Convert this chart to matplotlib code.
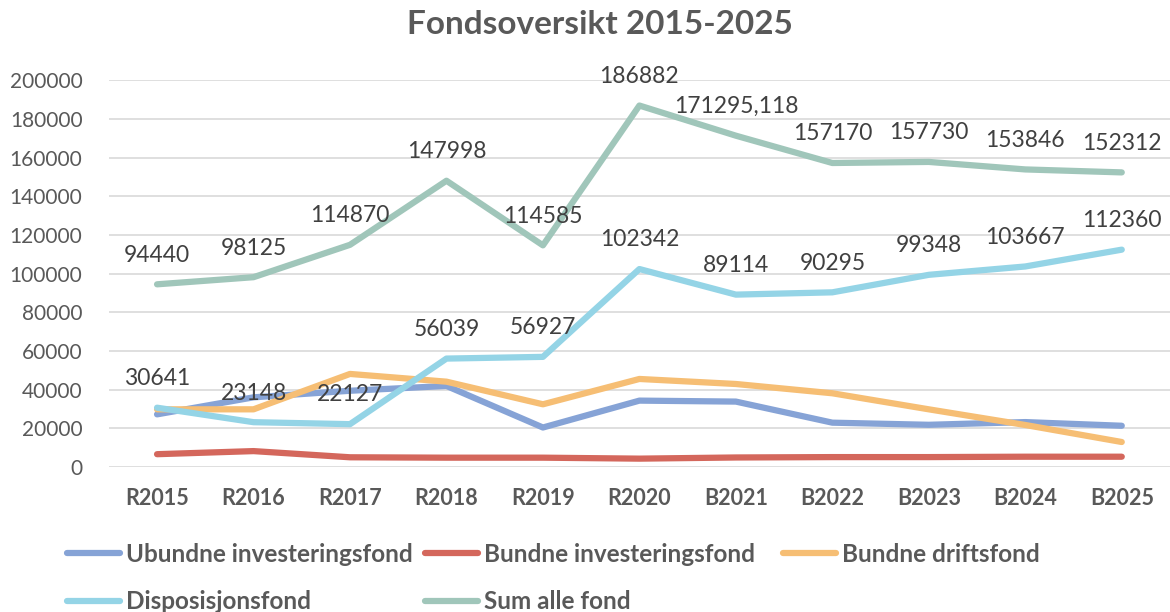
import matplotlib.pyplot as plt

plt.rcParams['font.family'] = ['Lato', 'DejaVu Sans']

years = ["R2015", "R2016", "R2017", "R2018", "R2019", "R2020",
         "B2021", "B2022", "B2023", "B2024", "B2025"]

ubundne_inv = [27200, 36000, 39400, 41900, 20400, 34300, 33800, 22900, 21800, 23200, 21300]
bundne_inv = [6600, 8200, 5000, 4800, 4800, 4300, 4900, 5100, 5100, 5300, 5300]
bundne_drift = [29800, 29800, 48100, 44100, 32400, 45500, 42900, 38100, 29800, 21700, 12900]
disposisjon = [30641, 23148, 22127, 56039, 56927, 102342, 89114, 90295, 99348, 103667, 112360]
sum_fond = [94440, 98125, 114870, 147998, 114585, 186882, 171295.118, 157170, 157730, 153846, 152312]

colors = {
    "Ubundne investeringsfond": "#86A3D6",
    "Bundne investeringsfond": "#D4675C",
    "Bundne driftsfond": "#F6BE74",
    "Disposisjonsfond": "#94D4E6",
    "Sum alle fond": "#A0C6BA",
}

fig = plt.figure(figsize=(11.7, 6.12), dpi=100)
ax = fig.add_axes([0.093, 0.237, 0.907, 0.632])

x = range(len(years))
series = [
    ("Ubundne investeringsfond", ubundne_inv),
    ("Bundne investeringsfond", bundne_inv),
    ("Bundne driftsfond", bundne_drift),
    ("Disposisjonsfond", disposisjon),
    ("Sum alle fond", sum_fond),
]
lines = {}
for name, vals in series:
    (ln,) = ax.plot(x, vals, color=colors[name], linewidth=4.5,
                    solid_capstyle="round", solid_joinstyle="round", label=name)
    lines[name] = ln


def fmt(v):
    if float(v).is_integer():
        return f"{int(v)}"
    return f"{v:.3f}".replace(".", ",")


for vals in (disposisjon, sum_fond):
    for i, v in enumerate(vals):
        ax.annotate(fmt(v), (i, v), xytext=(0, 21), textcoords="offset points",
                    ha="center", va="center", fontsize=16.5, color="#404040")

ax.set_xlim(-0.5, len(years) - 0.5)
ax.set_ylim(0, 200000)
ax.set_yticks(range(0, 200001, 20000))
ax.set_xticks(list(x))
ax.set_xticklabels(years, fontweight="bold")
ax.tick_params(axis="x", length=0, labelsize=15.5, colors="#595959", pad=15)
ax.tick_params(axis="y", length=0, labelsize=15, colors="#595959", pad=19)
ax.grid(axis="y", color="#D9D9D9", linewidth=1.2)
ax.set_axisbelow(True)
for s in ax.spines.values():
    s.set_visible(False)

fig.text(0.513, 1 - 25 / 612, "Fondsoversikt 2015-2025", ha="center", va="center",
         fontsize=24, fontweight="bold", color="#595959")

# three legend columns with equal widths, like the original
columns = [
    (0.057, ["Ubundne investeringsfond", "Disposisjonsfond"]),
    (0.363, ["Bundne investeringsfond", "Sum alle fond"]),
    (0.669, ["Bundne driftsfond"]),
]
for x0, names in columns:
    fig.legend([lines[n] for n in names], names, loc="upper left",
               bbox_to_anchor=(x0, 0.113), ncol=1, frameon=False,
               prop={"size": 17.5, "weight": "bold"}, labelcolor="#595959",
               handlelength=2.2, handletextpad=0.25, labelspacing=1.0,
               borderpad=0, borderaxespad=0)

plt.savefig("out.png", dpi=100)
